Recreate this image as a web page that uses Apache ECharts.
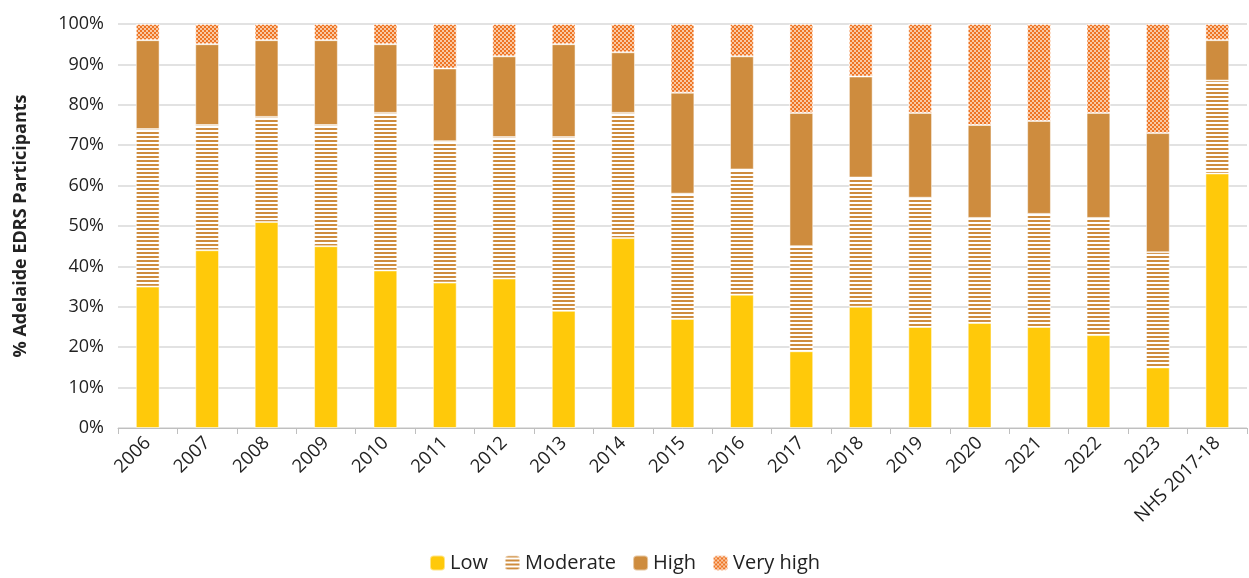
<!DOCTYPE html>
<html><head><meta charset="utf-8">
<script src="https://cdn.jsdelivr.net/npm/echarts@6/dist/echarts.min.js"></script>
<style>html,body{margin:0;padding:0;background:#fff}#c{width:1249px;height:578px}</style>
</head><body><div id="c"></div>
<script>
const categories = ['2006','2007','2008','2009','2010','2011','2012','2013','2014','2015','2016','2017','2018','2019','2020','2021','2022','2023','NHS 2017-18'];
const low      = [35,44,51,45,39,36,37,29,47,27,33,19,30,25,26,25,23,15,63];
const moderate = [39,31,26,30,39,35,35,43,31,31,31,26,32,32,26,28,29,28.5,23];
const high     = [22,20,19,21,17,18,20,23,15,25,28,33,25,21,23,23,26,29.5,10];
const veryHigh = [4,5,4,4,5,11,8,5,7,17,8,22,13,22,25,24,22,27,4];
const yTicks = [0,10,20,30,40,50,60,70,80,90,100];

const FONT = '"Open Sans", "Noto Sans", sans-serif';
const chart = echarts.init(document.getElementById('c'));
const border = {borderColor:'rgba(255,255,255,0.5)', borderWidth:1};
chart.setOption({
  animation:false,
  grid:{left:118, right:2, top:24, bottom:150},
  legend:{
    bottom:0, left:'center', itemWidth:15, itemHeight:15, itemGap:16,
    textStyle:{fontFamily:FONT, fontSize:20, color:'#222'},
    data:['Low','Moderate','High','Very high']
  },
  xAxis:{
    type:'category', data:categories,
    axisLine:{lineStyle:{color:'#bfbfbf'}},
    axisTick:{show:true, length:6, lineStyle:{color:'#bfbfbf'}},
    axisLabel:{rotate:45, fontFamily:FONT, fontSize:18.5, color:'#222', interval:0, margin:12}
  },
  yAxis:{
    type:'value', min:0, max:100, interval:10,
    name:'% Adelaide EDRS Participants', nameLocation:'middle', nameGap:88,
    nameTextStyle:{fontFamily:FONT, fontSize:18, fontWeight:'bold', color:'#222'},
    axisLabel:{formatter:v=>v+'%', fontFamily:FONT, fontSize:18, color:'#222', margin:14},
    splitLine:{lineStyle:{color:'#d9d9d9', width:1.5}},
    axisLine:{show:false}, axisTick:{show:false}
  },
  series:[
    {name:'Low', type:'bar', stack:'a', barWidth:'40%', data:low,
     itemStyle:Object.assign({color:'#FFC90A'}, border)},
    {name:'Moderate', type:'bar', stack:'a', data:moderate,
     itemStyle:Object.assign({color:'#ffffff',
       decal:{symbol:'rect', color:'#CE8C3E', dashArrayX:[1,0], dashArrayY:[2,2], rotation:0, symbolSize:1}}, border)},
    {name:'High', type:'bar', stack:'a', data:high,
     itemStyle:Object.assign({color:'#CE8C3E'}, border)},
    {name:'Very high', type:'bar', stack:'a', data:veryHigh,
     itemStyle:Object.assign({color:'#F9C9A4',
       decal:{symbol:'rect', color:'#EE7424', dashArrayX:[[2,2],[0,2,2,0]], dashArrayY:[2,0], rotation:0, symbolSize:1}}, border)}
  ]
});
</script></body></html>
